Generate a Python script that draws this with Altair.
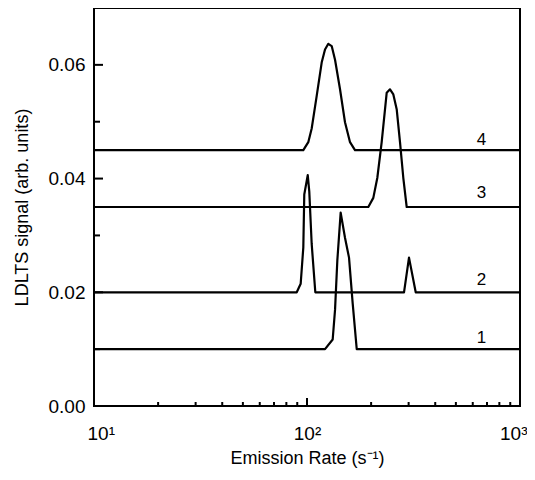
import altair as alt
import pandas as pd

# Curve 1 (baseline 0.01)
c1_rate = [10, 121.5, 132.0, 135.4, 138.8, 143.9, 150.8, 157.5, 163.9, 171.2, 1000]
c1_sig = [0.010, 0.010, 0.0117, 0.0169, 0.0256, 0.0340, 0.0296, 0.0261, 0.0180, 0.010, 0.010]

# Curve 2 (baseline 0.02)
c2_rate = [10, 89.5, 93.4, 96.1, 97.1, 100.8, 102.5, 105.2, 109.4, 285.4, 301.2, 323.9, 1000]
c2_sig = [0.020, 0.020, 0.0215, 0.0279, 0.0372, 0.0406, 0.0377, 0.0285, 0.020, 0.020, 0.0261, 0.020, 0.020]

# Curve 3 (baseline 0.035)
c3_rate = [10, 194.0, 204.8, 213.8, 224.2, 236.7, 245.3, 254.3, 263.7, 273.3, 283.3, 293.8, 1000]
c3_sig = [0.035, 0.035, 0.0366, 0.0401, 0.0464, 0.0551, 0.0557, 0.0548, 0.0522, 0.0464, 0.0401, 0.035, 0.035]

# Curve 4 (baseline 0.045)
c4_rate = [10, 96.1, 101.4, 105.2, 111.1, 117.2, 121.5, 125.9, 130.6, 135.4, 142.9, 150.8, 159.2, 168.0, 1000]
c4_sig = [0.045, 0.045, 0.0464, 0.0488, 0.0546, 0.0604, 0.0627, 0.0637, 0.0633, 0.0609, 0.0557, 0.0499, 0.0464, 0.045, 0.045]

curve_names = ["1", "2", "3", "4"]
label_rate = [660, 660, 660, 660]
label_sig = [0.0111, 0.0212, 0.0365, 0.0459]

y_major = [0.0, 0.02, 0.04, 0.06]
y_minor = [0.01, 0.03, 0.05]
x_major = [10, 100, 1000]
x_minor = [20, 30, 40, 50, 60, 70, 80, 90, 200, 300, 400, 500, 600, 700, 800, 900]

rows = []
for name, xs, ys in zip(curve_names, [c1_rate, c2_rate, c3_rate, c4_rate], [c1_sig, c2_sig, c3_sig, c4_sig]):
    for i, (xv, yv) in enumerate(zip(xs, ys)):
        rows.append({"curve": name, "i": i, "rate": xv, "signal": yv})
df = pd.DataFrame(rows)
labels_df = pd.DataFrame({"curve": curve_names, "rate": label_rate, "signal": label_sig})

W, H = 426, 398
FONT = "Liberation Sans"

xscale = alt.Scale(type="log", domain=[10, 1000], nice=False)
yscale = alt.Scale(domain=[0, 0.07], nice=False, zero=False)

x_axis = alt.Axis(values=x_major, ticks=False, tickSize=0, domain=False, grid=False,
                  labelExpr="'10' + (datum.value == 10 ? '¹' : datum.value == 100 ? '²' : '³')",
                  labelFontSize=19, labelFont=FONT, labelColor="black", labelPadding=18,
                  labelFlush=True, labelFlushOffset=7,
                  title="Emission Rate (s⁻¹)", titleFontSize=18, titleFont=FONT,
                  titleFontWeight="normal", titleColor="black",
                  titleBaseline="alphabetic", titleY=57)
y_axis = alt.Axis(values=y_major, format=".2f", ticks=False, tickSize=0, domain=False, grid=False,
                  labelFontSize=19, labelFont=FONT, labelColor="black", labelPadding=9,
                  title="LDLTS signal (arb. units)", titleFontSize=18, titleFont=FONT,
                  titleFontWeight="normal", titleColor="black",
                  titleBaseline="alphabetic", titleAngle=270, titleX=-67, titleY=H / 2,
                  titleAlign="center")

lines = alt.Chart(df).mark_line(color="black", strokeWidth=2.2, strokeJoin="round").encode(
    x=alt.X("rate:Q", scale=xscale, axis=x_axis),
    y=alt.Y("signal:Q", scale=yscale, axis=y_axis),
    detail="curve:N",
    order="i:Q",
)

texts = alt.Chart(labels_df).mark_text(fontSize=17, font=FONT, color="black", align="center",
                                       baseline="alphabetic").encode(
    x=alt.X("rate:Q", scale=xscale, axis=x_axis),
    y=alt.Y("signal:Q", scale=yscale, axis=y_axis),
    text="curve:N",
)

ymaj = alt.Chart(pd.DataFrame({"signal": y_major})).mark_rule(color="black", strokeWidth=2).encode(
    y=alt.Y("signal:Q", scale=yscale, axis=y_axis), x=alt.value(0), x2=alt.value(9))
ymin = alt.Chart(pd.DataFrame({"signal": y_minor})).mark_rule(color="black", strokeWidth=2).encode(
    y=alt.Y("signal:Q", scale=yscale, axis=y_axis), x=alt.value(0), x2=alt.value(6))
xmaj = alt.Chart(pd.DataFrame({"rate": x_major})).mark_rule(color="black", strokeWidth=2).encode(
    x=alt.X("rate:Q", scale=xscale, axis=x_axis), y=alt.value(H), y2=alt.value(H - 8))
xmin = alt.Chart(pd.DataFrame({"rate": x_minor})).mark_rule(color="black", strokeWidth=2).encode(
    x=alt.X("rate:Q", scale=xscale, axis=x_axis), y=alt.value(H), y2=alt.value(H - 4))

chart = alt.layer(lines, texts, ymaj, ymin, xmaj, xmin).properties(
    width=W, height=H,
    autosize=alt.AutoSizeParams(type="none"),
    padding={"left": 86, "top": 0, "right": 7, "bottom": 62},
    background="white",
).configure_view(stroke="black", strokeWidth=2)

chart.save("out.html", embed_options={"renderer": "svg", "actions": False})
